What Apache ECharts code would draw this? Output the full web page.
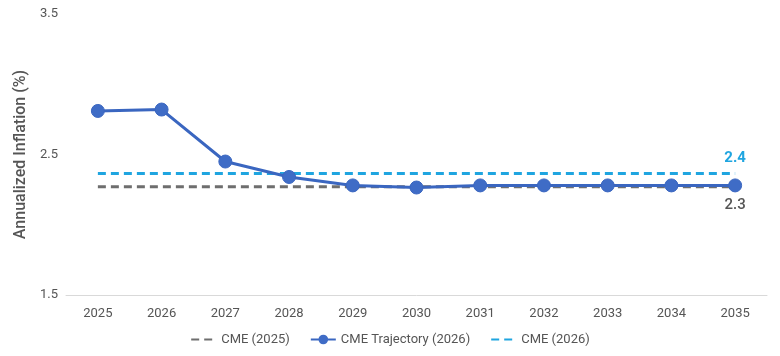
<!DOCTYPE html>
<html><head><meta charset="utf-8">
<script src="https://cdn.jsdelivr.net/npm/echarts@6/dist/echarts.min.js"></script>
<style>html,body{margin:0;padding:0;background:#fff}#c{width:780px;height:356px}</style>
</head><body><div id="c"></div>
<script>
const years = ['2025','2026','2027','2028','2029','2030','2031','2032','2033','2034','2035'];
const cme2025 = [2.27,2.27,2.27,2.27,2.27,2.27,2.27,2.27,2.27,2.27,2.27];
const trajectory2026 = [2.81,2.82,2.45,2.34,2.28,2.265,2.28,2.28,2.28,2.28,2.28];
const cme2026 = [2.365,2.365,2.365,2.365,2.365,2.365,2.365,2.365,2.365,2.365,2.365];
const yTicks = [1.5,2.5,3.5];
const endLabelCme2026 = '2.4';
const endLabelCme2025 = '2.3';

const font = 'Roboto, "Noto Sans", sans-serif';
const chart = echarts.init(document.getElementById('c'));
const last = years.length - 1;
function withEndLabel(values, labelText, color, pos, dist, weight) {
  return values.map((v, i) => i === last ? {
    value: v,
    symbol: 'circle', symbolSize: 2,
    itemStyle: {color: 'rgba(0,0,0,0)'},
    label: {show: true, position: pos, distance: dist, color: color, fontSize: 15, fontWeight: weight,
      fontFamily: font, formatter: labelText}
  } : v);
}
chart.setOption({
  animation: false,
  textStyle: {fontFamily: font},
  grid: {left: 66, right: 13, top: 14, bottom: 61},
  legend: {
    bottom: 5, left: 'center', itemGap: 20, itemWidth: 25, itemHeight: 12,
    textStyle: {color: '#555', fontSize: 13, fontFamily: font},
    data: [
      {name: 'CME (2025)', itemStyle: {opacity: 0}},
      {name: 'CME Trajectory (2026)'},
      {name: 'CME (2026)', itemStyle: {opacity: 0}}
    ]
  },
  xAxis: {
    type: 'category', data: years, boundaryGap: true,
    axisLine: {lineStyle: {color: '#d9d9d9'}},
    axisTick: {show: false},
    axisLabel: {color: '#555', fontSize: 13, margin: 12}
  },
  yAxis: {
    type: 'value', min: 1.5, max: 3.5, interval: 1,
    name: 'Annualized Inflation (%)', nameLocation: 'middle', nameGap: 34,
    nameTextStyle: {color: '#555', fontSize: 16, fontWeight: 500},
    splitLine: {show: false},
    axisLine: {show: false}, axisTick: {show: false},
    axisLabel: {color: '#555', fontSize: 13, formatter: v => yTicks.includes(v) ? v.toFixed(1) : ''}
  },
  series: [
    {
      name: 'CME (2025)', type: 'line', data: withEndLabel(cme2025, endLabelCme2025, '#555', 'bottom', 10, 500),
      symbol: 'none',
      lineStyle: {color: '#6e6e6e', width: 3, type: [8, 5]},
      itemStyle: {color: '#6e6e6e'},
      z: 1
    },
    {
      name: 'CME Trajectory (2026)', type: 'line', data: trajectory2026,
      symbol: 'circle', symbolSize: 13,
      lineStyle: {color: '#3a66c0', width: 3},
      itemStyle: {color: '#3f6cc6', borderColor: '#3a66c0'},
      z: 3
    },
    {
      name: 'CME (2026)', type: 'line', data: withEndLabel(cme2026, endLabelCme2026, '#1fa5e0', 'top', 7, 'bold'),
      symbol: 'none',
      lineStyle: {color: '#1fa5e0', width: 3, type: [8, 5]},
      itemStyle: {color: '#1fa5e0'},
      z: 2
    }
  ]
});
</script></body></html>
